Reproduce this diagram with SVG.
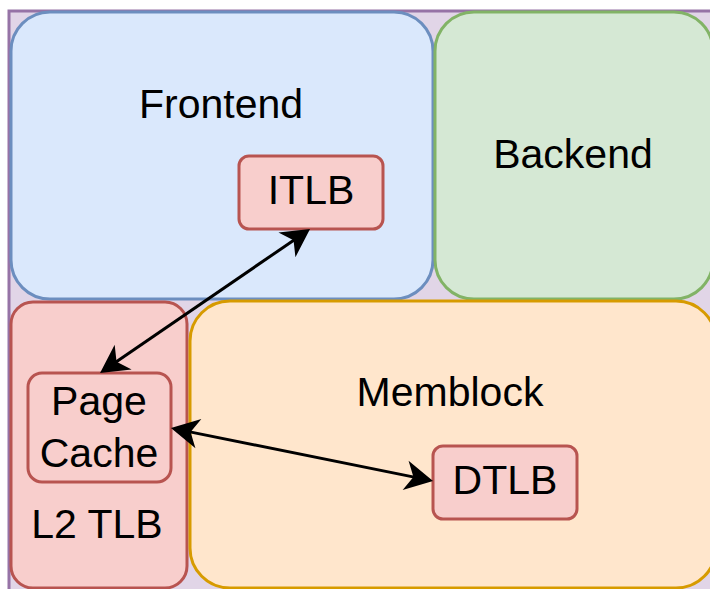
<svg xmlns="http://www.w3.org/2000/svg" width="710" height="589" viewBox="0 0 710 589">
  <style>
    .lbl { font-family: "Liberation Sans", Arial, sans-serif; font-size: 41px; fill: #000000; text-anchor: middle; }
    .box { stroke-width: 3; }
    .purple { fill: #e1d5e7; stroke: #9673a6; }
    .blue { fill: #dae8fc; stroke: #6c8ebf; }
    .green { fill: #d5e8d4; stroke: #82b366; }
    .orange { fill: #ffe6cc; stroke: #d79b00; }
    .red { fill: #f8cecc; stroke: #b85450; }
    .link { stroke: #000000; stroke-width: 3; fill: none; marker-start: url(#arrow); marker-end: url(#arrow); }
  </style>
  <defs>
    <!-- classic arrowhead, tip 18px beyond the line end -->
    <marker id="arrow" markerUnits="userSpaceOnUse" orient="auto-start-reverse" refX="0" refY="0" markerWidth="40" markerHeight="40" overflow="visible">
      <path d="M18,0 L-10,-15 L-2,0 L-10,15 Z" fill="#000000"/>
    </marker>
  </defs>

  <!-- outer container -->
  <g id="core">
    <rect class="box purple" x="9" y="11" width="730" height="600"/>
  </g>

  <g id="frontend">
    <rect class="box blue" x="11" y="12" width="422" height="287" rx="39" ry="39"/>
    <text class="lbl" x="221" y="118">Frontend</text>
  </g>

  <g id="backend">
    <rect class="box green" x="435" y="12" width="278" height="287" rx="39" ry="39"/>
    <text class="lbl" x="573" y="168">Backend</text>
  </g>

  <g id="l2tlb">
    <rect class="box red" x="11" y="302" width="176" height="286" rx="22" ry="22"/>
    <text class="lbl" x="97" y="538">L2 TLB</text>
  </g>

  <g id="memblock">
    <rect class="box orange" x="190" y="301" width="526" height="287" rx="40" ry="40"/>
    <text class="lbl" x="450" y="406">Memblock</text>
  </g>

  <g id="itlb">
    <rect class="box red" x="239" y="156" width="144" height="73" rx="10" ry="10"/>
    <text class="lbl" x="311" y="204">ITLB</text>
  </g>

  <g id="pagecache">
    <rect class="box red" x="28" y="373" width="143" height="109" rx="14" ry="14"/>
    <text class="lbl" x="99" y="415">Page</text>
    <text class="lbl" x="99" y="467">Cache</text>
  </g>

  <g id="dtlb">
    <rect class="box red" x="433" y="446" width="144" height="73" rx="10" ry="10"/>
    <text class="lbl" x="505" y="494">DTLB</text>
  </g>

  <!-- bidirectional links between the TLBs -->
  <g id="connectors">
    <line class="link" x1="295.2" y1="239.2" x2="114.9" y2="362.8"/>
    <line class="link" x1="188.6" y1="431.6" x2="415.4" y2="477.4"/>
  </g>
</svg>
